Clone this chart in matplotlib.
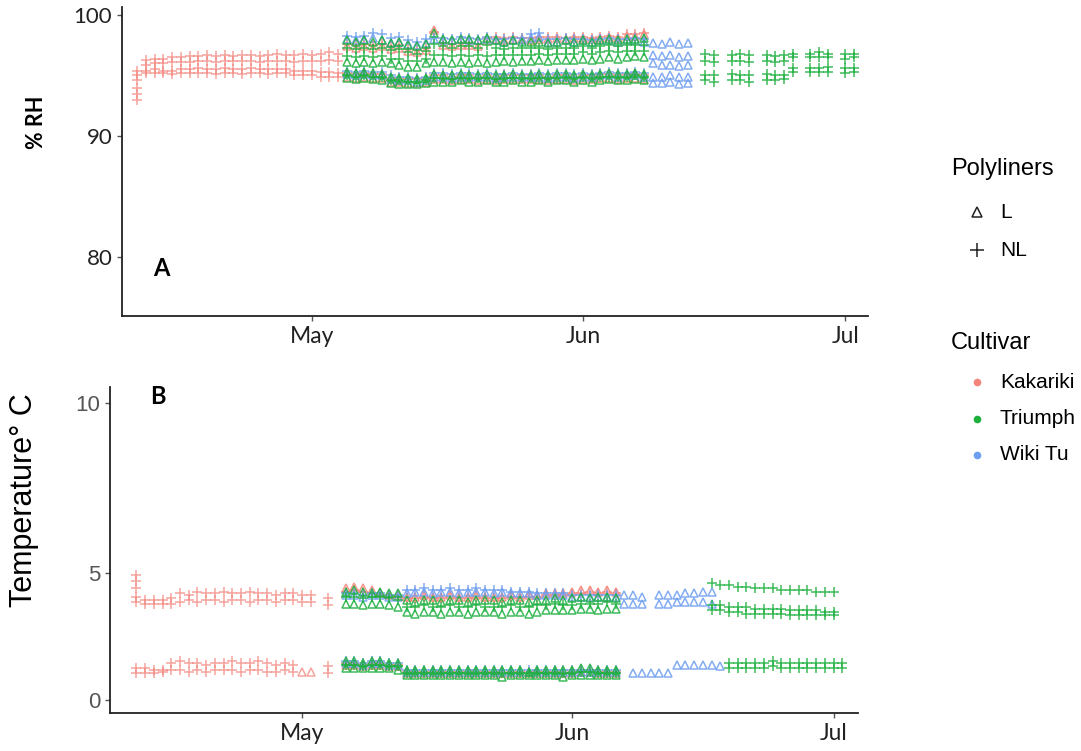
import numpy as np
import matplotlib
matplotlib.use("Agg")
import matplotlib.pyplot as plt
import matplotlib.dates as mdates
from matplotlib.lines import Line2D

nan = np.nan

def d(s):
    return np.datetime64("2019-" + s)

def drange(a, b):
    return np.arange(d(a), d(b) + np.timedelta64(1, "D"))

# ---------------- categories ----------------
cultivars = ["Kakariki", "Triumph", "Wiki Tu"]
polyliners = ["L", "NL"]
month_labels = ["May", "Jun", "Jul"]

# ================= Panel A : % RH =================
# period 1 : Kakariki NL, Apr 11 - May 4
rh_p1_dates = drange("04-11", "05-04")
rh_kak_nl_up_hi = [nan, 96.3, 96.4, 96.4, 96.5, 96.5, 96.6, 96.6, 96.7, 96.6, 96.7, 96.6,
                   96.7, 96.7, 96.6, 96.7, 96.8, 96.7, 96.7, 96.8, 96.7, 96.8, 96.9, 96.8]
rh_kak_nl_up_lo = [nan, 95.9, 96.0, 96.0, 96.1, 96.1, 96.1, 96.2, 96.2, 96.1, 96.2, 96.2,
                   96.2, 96.2, 96.1, 96.2, 96.2, 96.2, 96.1, 96.2, 96.2, 96.2, 96.3, 96.2]
rh_kak_nl_lo_hi = [95.4, 95.4, 95.5, 95.4, 95.4, 95.5, 95.5, 95.6, 95.5, 95.5, 95.6, 95.5,
                   95.5, 95.6, 95.5, 95.5, 95.5, 95.5, 95.4, 95.4, 95.4, 95.3, 95.3, 95.2]
rh_kak_nl_lo_lo = [95.0, 95.2, 95.2, 95.2, 95.1, 95.2, 95.2, 95.2, 95.2, 95.1, 95.2, 95.2,
                   95.1, 95.2, 95.2, 95.1, 95.2, 95.2, 95.0, 95.0, 95.0, 94.9, 94.9, 94.9]
rh_kak_start_date = d("04-11")
rh_kak_start = [94.6, 94.0, 93.5, 93.0]

# period 2 : all cultivars, May 5 - Jun 8
rh_p2_dates = drange("05-05", "06-08")
rh_kak_L_up = [97.4, 97.3, 97.4, 97.3, 97.4, 97.2, 97.3, 97.0, 96.9, 97.1, 98.8, 97.5,
               97.4, 97.5, 97.5, 97.4, 97.9, 98.0, 97.9, 98.0, 98.0, 97.9, 98.0, 98.0,
               98.1, 98.0, 98.1, 98.1, 98.0, 98.1, 98.2, 98.1, 98.3, 98.3, 98.4]
rh_kak_NL_up = [97.6, 97.5, 97.6, 97.5, 97.6, 97.4, 97.5, 97.2, 97.1, 97.3, 98.6, 97.7,
                97.6, 97.7, 97.7, 97.6, 98.1, 98.2, 98.1, 98.2, 98.1, 98.1, 98.2, 98.2,
                98.2, 98.1, 98.2, 98.2, 98.1, 98.2, 98.3, 98.2, 98.4, 98.4, 98.5]
rh_kak_L_lo = [94.9, 94.8, 94.9, 94.8, 94.8, 94.5, 94.5, 94.4, 94.4, 94.5, 94.7, 94.7,
               94.6, 94.7, 94.7, 94.6, 94.7, 94.6, 94.7, 94.7, 94.7, 94.7, 94.7, 94.6,
               94.7, 94.7, 94.6, 94.7, 94.7, 94.8, 94.8, 94.7, 94.8, 94.8, 94.7]
rh_kak_NL_lo = [95.2, 95.1, 95.2, 95.1, 95.1, 94.8, 94.8, 94.7, 94.7, 94.8, 95.0, 95.0,
                94.9, 95.0, 95.0, 94.9, 95.0, 94.9, 95.0, 95.0, 95.0, 95.0, 95.0, 94.9,
                95.0, 95.0, 94.9, 95.0, 95.0, 95.1, 95.1, 95.0, 95.1, 95.1, 95.0]
rh_wiki_L_up = [98.0, 97.9, 98.0, 98.1, 97.9, 97.7, 97.8, 97.6, 97.5, 97.7, 98.0, 97.9,
                97.9, 98.0, 97.9, 97.9, 98.0, 97.9, 97.8, 97.9, 97.9, 98.1, 98.2, 97.8,
                97.8, 97.9, 97.8, 97.9, 97.8, 97.9, 97.9, 97.8, 97.9, 97.9, 97.8]
rh_wiki_NL_up = [98.3, 98.2, 98.3, 98.5, 98.4, 98.1, 98.2, 97.9, 97.8, 98.0, 98.1, 98.1,
                 98.0, 98.2, 98.1, 98.0, 98.2, 98.0, 98.0, 98.1, 98.1, 98.4, 98.5, 98.0,
                 98.0, 98.1, 98.0, 98.0, 97.9, 98.0, 98.1, 98.0, 98.0, 98.1, 98.0]
rh_wiki_L_lo = [95.1, 95.0, 95.1, 95.0, 95.0, 94.7, 94.6, 94.6, 94.5, 94.6, 94.9, 94.9,
                94.8, 94.9, 94.9, 94.9, 94.9, 94.8, 94.9, 94.9, 94.9, 94.9, 94.9, 94.8,
                94.9, 94.9, 94.8, 94.9, 94.9, 95.0, 95.0, 94.9, 95.0, 95.0, 94.9]
rh_wiki_NL_lo = [95.4, 95.3, 95.4, 95.3, 95.3, 95.0, 94.9, 94.9, 94.8, 94.9, 95.2, 95.2,
                 95.1, 95.2, 95.2, 95.1, 95.2, 95.1, 95.1, 95.2, 95.1, 95.1, 95.2, 95.1,
                 95.2, 95.2, 95.1, 95.2, 95.1, 95.2, 95.3, 95.2, 95.2, 95.3, 95.2]
rh_tri_L_up_hi = [97.9, 97.8, 97.9, 97.8, 97.9, 97.7, 97.8, 97.5, 97.4, 97.6, 98.5, 98.0,
                  97.9, 98.0, 98.0, 97.9, 98.1, 97.9, 97.8, 97.9, 97.8, 97.8, 97.8, 97.7,
                  97.8, 97.9, 97.8, 97.9, 97.8, 97.9, 98.0, 97.9, 98.0, 98.0, 98.1]
rh_tri_L_up_lo = [96.1, 96.0, 96.1, 96.0, 96.1, 96.0, 95.9, 95.7, 95.7, 96.0, 96.1, 96.1,
                  96.0, 96.1, 96.0, 96.1, 96.0, 96.1, 96.2, 96.1, 96.2, 96.2, 96.3, 96.2,
                  96.3, 96.3, 96.3, 96.4, 96.3, 96.4, 96.5, 96.4, 96.5, 96.6, 96.5]
rh_tri_NL_up_hi = [97.3, 97.2, 97.3, 97.2, 97.3, 97.1, 97.2, 96.9, 96.8, 97.0, 97.6, 97.4,
                   97.3, 97.4, 97.4, 97.3, 97.5, 97.3, 97.2, 97.3, 97.3, 97.3, 97.3, 97.2,
                   97.3, 97.3, 97.3, 97.4, 97.3, 97.4, 97.5, 97.4, 97.5, 97.5, 97.5]
rh_tri_NL_up_lo = [96.6, 96.5, 96.6, 96.5, 96.6, 96.4, 96.4, 96.2, 96.2, 96.4, 96.7, 96.7,
                   96.6, 96.7, 96.6, 96.7, 96.6, 96.7, 96.7, 96.7, 96.7, 96.7, 96.8, 96.7,
                   96.8, 96.8, 96.8, 96.9, 96.8, 96.9, 97.0, 96.9, 97.0, 97.0, 97.0]
rh_tri_L_lo_hi = [95.3, 95.2, 95.3, 95.2, 95.1, 94.9, 94.8, 94.8, 94.7, 94.8, 95.1, 95.0,
                  95.0, 95.1, 95.0, 95.0, 95.1, 95.0, 95.0, 95.1, 95.0, 95.0, 95.1, 95.0,
                  95.1, 95.1, 95.0, 95.1, 95.0, 95.1, 95.2, 95.1, 95.1, 95.2, 95.1]
rh_tri_L_lo_lo = [94.8, 94.7, 94.8, 94.7, 94.6, 94.4, 94.3, 94.3, 94.3, 94.4, 94.5, 94.5,
                  94.5, 94.6, 94.5, 94.5, 94.6, 94.5, 94.5, 94.6, 94.5, 94.5, 94.6, 94.5,
                  94.6, 94.6, 94.5, 94.6, 94.5, 94.6, 94.7, 94.6, 94.6, 94.7, 94.6]
rh_tri_NL_lo = [95.0, 94.9, 95.0, 94.9, 94.9, 94.6, 94.6, 94.5, 94.5, 94.6, 94.8, 94.8,
                94.7, 94.8, 94.8, 94.8, 94.8, 94.7, 94.8, 94.8, 94.8, 94.8, 94.8, 94.8,
                94.8, 94.9, 94.8, 94.9, 94.8, 94.9, 94.9, 94.9, 94.9, 95.0, 94.9]

# period 3 : Wiki Tu L, Jun 9 - Jun 13
rh_p3_dates = drange("06-09", "06-13")
rh_wiki3_up_hi = [97.7, 97.6, 97.8, 97.6, 97.7]
rh_wiki3_up_lo = [96.7, 96.6, 96.7, 96.5, 96.6]
rh_wiki3_mid = [96.0, 95.9, 95.9, 95.8, 95.9]
rh_wiki3_lo_hi = [94.9, 94.9, 95.0, 94.9, 94.9]
rh_wiki3_lo_lo = [94.4, 94.4, 94.5, 94.3, 94.4]

# period 4 : Triumph NL, Jun 15 - Jul 2
rh_p4_dates = [d(s) for s in ["06-15", "06-16", "06-18", "06-19", "06-20", "06-22", "06-23",
                              "06-24", "06-25", "06-27", "06-28", "06-29", "07-01", "07-02"]]
rh_tri4_up_hi = [96.8, 96.7, 96.7, 96.8, 96.7, 96.7, 96.6, 96.7, 96.8, 96.8, 96.9, 96.8, 96.8, 96.8]
rh_tri4_up_lo = [96.2, 96.1, 96.2, 96.2, 96.1, 96.2, 96.1, 96.2, 96.5, 96.5, 96.5, 96.5, 96.4, 96.5]
rh_tri4_lo_hi = [95.0, 95.0, 95.1, 95.0, 95.0, 95.1, 95.0, 95.0, 95.6, 95.6, 95.6, 95.7, 95.6, 95.6]
rh_tri4_lo_lo = [94.6, 94.5, 94.6, 94.6, 94.5, 94.6, 94.6, 94.7, 95.3, 95.3, 95.3, 95.3, 95.2, 95.3]

# ================= Panel B : Temperature =================
# period 1 : Kakariki NL, Apr 12 - May 4
t_p1_dates = np.concatenate([drange("04-12", "05-02"), [d("05-04")]])
t_kak_nl_up_hi = [4.30, 4.20, 4.20, 4.20, 4.25, 4.40, 4.35, 4.45, 4.40, 4.40, 4.45,
                  4.40, 4.40, 4.45, 4.40, 4.40, 4.35, 4.40, 4.40, 4.35, 4.35, 4.25]
t_kak_nl_up_lo = [4.15, 4.10, 4.10, 4.10, 4.10, 4.15, 4.20, 4.15, 4.20, 4.20, 4.15,
                  4.20, 4.20, 4.15, 4.20, 4.20, 4.15, 4.20, 4.20, 4.15, 4.15, 4.05]
t_kak_nl_lo_hi = [2.20, 2.20, 2.15, 2.15, 2.35, 2.40, 2.35, 2.35, 2.30, 2.35, 2.35,
                  2.40, 2.35, 2.35, 2.40, 2.35, 2.30, 2.35, 2.30, nan, nan, 2.25]
t_kak_nl_lo_lo = [2.05, 2.05, 2.05, 2.10, 2.15, 2.15, 2.10, 2.15, 2.10, 2.15, 2.15,
                  2.15, 2.10, 2.15, 2.15, 2.10, 2.10, 2.15, 2.10, nan, nan, 2.05]
t_kak_start_date = d("04-12")
t_kak_start = [4.95, 4.75, 4.55]
t_kak_L_p1_dates = [d("05-01"), d("05-02")]
t_kak_L_p1 = [2.10, 2.10]

# period 2 : all cultivars, May 6 - Jun 6
t_p2_dates = drange("05-06", "06-06")
t_kak_L_up = [4.55, 4.60, 4.55, 4.50, 4.40, 4.35, 4.35, 4.30, 4.30, 4.35, 4.30, 4.30,
              4.35, 4.30, 4.30, 4.35, 4.30, 4.30, 4.30, 4.35, 4.30, 4.35, 4.35, 4.40,
              4.40, 4.40, 4.45, 4.50, 4.50, 4.45, 4.50, 4.45]
t_kak_NL_up = [4.45, 4.50, 4.45, 4.40, 4.35, 4.30, 4.30, 4.25, 4.25, 4.30, 4.25, 4.25,
               4.30, 4.25, 4.25, 4.30, 4.25, 4.25, 4.25, 4.30, 4.25, 4.30, 4.30, 4.35,
               4.35, 4.35, 4.40, 4.40, 4.45, 4.40, 4.45, 4.40]
t_kak_L_lo = [2.30, 2.30, 2.25, 2.30, 2.30, 2.25, 2.25, 2.05, 2.05, 2.05, 2.05, 2.05,
              2.05, 2.05, 2.05, 2.05, 2.05, 2.05, 2.05, 2.05, 2.05, 2.05, 2.05, 2.05,
              2.05, 2.05, 2.05, 2.10, 2.10, 2.05, 2.05, 2.05]
t_kak_NL_lo = [2.35, 2.35, 2.30, 2.35, 2.35, 2.30, 2.30, 2.10, 2.10, 2.10, 2.10, 2.10,
               2.10, 2.10, 2.10, 2.10, 2.10, 2.10, 2.05, 2.10, 2.10, 2.10, 2.10, 2.10,
               2.10, 2.05, 2.10, 2.15, 2.15, 2.10, 2.10, 2.10]
t_wiki_L_up = [4.35, 4.35, 4.30, 4.35, 4.35, 4.30, 4.30, 4.40, 4.45, 4.45, 4.40, 4.45,
               4.45, 4.40, 4.45, 4.45, 4.45, 4.40, 4.45, 4.40, 4.40, 4.40, 4.35, 4.35,
               4.35, 4.35, 4.30, 4.30, 4.30, 4.30, 4.30, 4.30]
t_wiki_NL_up = [4.40, 4.40, 4.35, 4.40, 4.40, 4.35, 4.35, 4.50, 4.50, 4.55, 4.50, 4.50,
                4.55, 4.50, 4.50, 4.55, 4.50, 4.50, 4.50, 4.45, 4.45, 4.45, 4.40, 4.40,
                4.40, 4.40, 4.35, 4.35, 4.35, 4.35, 4.35, 4.35]
t_wiki_L_lo = [2.35, 2.35, 2.30, 2.35, 2.35, 2.30, 2.30, 2.10, 2.10, 2.10, 2.10, 2.10,
               2.10, 2.10, 2.10, 2.10, 2.10, 2.10, 2.10, 2.10, 2.10, 2.10, 2.10, 2.10,
               2.10, 2.10, 2.10, 2.10, 2.10, 2.10, 2.10, 2.10]
t_wiki_NL_lo = [2.40, 2.40, 2.35, 2.40, 2.40, 2.35, 2.35, 2.15, 2.15, 2.15, 2.15, 2.15,
                2.15, 2.15, 2.15, 2.15, 2.15, 2.15, 2.15, 2.15, 2.15, 2.15, 2.15, 2.15,
                2.15, 2.15, 2.15, 2.15, 2.15, 2.15, 2.15, 2.15]
t_tri_L_up_hi = [4.45, 4.50, 4.45, 4.40, 4.45, 4.40, 4.40, 4.20, 4.15, 4.20, 4.20, 4.15,
                 4.20, 4.20, 4.15, 4.20, 4.20, 4.20, 4.15, 4.20, 4.20, 4.15, 4.20, 4.20,
                 4.25, 4.20, 4.25, 4.30, 4.25, 4.30, 4.30, 4.25]
t_tri_L_up_lo = [4.10, 4.10, 4.05, 4.10, 4.10, 4.05, 4.00, 3.85, 3.80, 3.85, 3.85, 3.80,
                 3.85, 3.85, 3.80, 3.85, 3.85, 3.85, 3.80, 3.85, 3.85, 3.80, 3.85, 3.90,
                 3.90, 3.90, 3.90, 3.95, 3.95, 3.90, 3.95, 3.95]
t_tri_NL_up = [4.30, 4.30, 4.25, 4.30, 4.30, 4.25, 4.20, 4.00, 4.00, 4.05, 4.00, 4.00,
               4.05, 4.00, 4.00, 4.05, 4.00, 4.00, 4.00, 4.05, 4.00, 4.00, 4.05, 4.05,
               4.10, 4.05, 4.05, 4.10, 4.10, 4.10, 4.15, 4.10]
t_tri_L_lo_hi = [2.40, 2.40, 2.35, 2.40, 2.40, 2.35, 2.35, 2.15, 2.15, 2.15, 2.15, 2.15,
                 2.15, 2.15, 2.15, 2.15, 2.15, 2.15, 2.15, 2.15, 2.15, 2.10, 2.15, 2.15,
                 2.15, 2.15, 2.15, 2.20, 2.20, 2.15, 2.15, 2.15]
t_tri_L_lo_lo = [2.20, 2.20, 2.20, 2.20, 2.20, 2.20, 2.15, 2.00, 2.00, 2.00, 2.00, 2.00,
                 2.00, 2.00, 2.00, 2.00, 2.00, 2.00, 1.95, 2.00, 2.00, 2.00, 2.00, 2.00,
                 2.00, 1.95, 2.00, 2.00, 2.00, 2.00, 2.00, 2.00]
t_tri_NL_lo = [2.30, 2.30, 2.25, 2.30, 2.30, 2.25, 2.25, 2.05, 2.05, 2.05, 2.05, 2.05,
               2.05, 2.05, 2.05, 2.05, 2.05, 2.05, 2.05, 2.05, 2.05, 2.05, 2.05, 2.05,
               2.05, 2.05, 2.05, 2.10, 2.10, 2.05, 2.05, 2.05]

# period 3 : Wiki Tu L, Jun 7 - Jun 18
t_wiki3_up_dates = [d(s) for s in ["06-07", "06-08", "06-09", "06-11", "06-12",
                                   "06-13", "06-14", "06-15", "06-16", "06-17"]]
t_wiki3_up_hi = [4.35, 4.35, 4.30, 4.35, 4.35, 4.35, 4.40, 4.40, 4.45, 4.45]
t_wiki3_up_lo = [4.10, 4.10, 4.10, 4.10, 4.10, 4.15, 4.15, 4.15, 4.15, 4.10]
t_wiki3_lo_dates = drange("06-08", "06-18")
t_wiki3_lo = [2.05, 2.05, 2.05, 2.05, 2.05, 2.30, 2.30, 2.30, 2.30, 2.30, 2.25]

# period 4 : Triumph NL, Jun 17 - Jul 2
t_tri4_up_dates = drange("06-17", "07-01")
t_tri4_up_a = [4.70, 4.65, 4.65, 4.60, 4.60, 4.55, 4.55, 4.55, 4.50, 4.50, 4.50, 4.50,
               4.45, 4.45, 4.45]
t_tri4_up_b = [4.05, 4.05, 4.00, 4.00, 4.00, 3.95, 3.95, 3.95, 3.95, 3.90, 3.90, 3.90,
               3.90, 3.85, 3.85]
t_tri4_up_c = [3.90, 3.90, 3.85, 3.85, 3.80, 3.80, 3.80, 3.80, 3.80, 3.75, 3.75, 3.75,
               3.75, 3.75, 3.75]
t_tri4_lo_dates = drange("06-19", "07-02")
t_tri4_lo_hi = [2.35, 2.35, 2.35, 2.35, 2.35, 2.40, 2.35, 2.35, 2.35, 2.35, 2.35, 2.35,
                2.35, 2.35]
t_tri4_lo_lo = [2.20, 2.20, 2.20, 2.20, 2.20, 2.25, 2.20, 2.20, 2.20, 2.20, 2.20, 2.20,
                2.20, 2.20]

# ---------------- styles ----------------
colors = {"Kakariki": "#F4857C", "Triumph": "#1DB03F", "Wiki Tu": "#6E9EF0"}
shapes = {"L": "^", "NL": "+"}
W, H = 1081, 751
fig = plt.figure(figsize=(W / 100, H / 100), dpi=100)

def pts(ax, dates, vals, cult, liner, alpha=0.85):
    m = shapes[liner]
    ms = 5.4 if m == "^" else 6.8
    ax.plot(dates, vals, linestyle="none", marker=m, ms=ms, mew=1.1,
            mfc="none", mec=colors[cult], alpha=alpha)

def style_axis(ax):
    for s in ["top", "right"]:
        ax.spines[s].set_visible(False)
    for s in ["left", "bottom"]:
        ax.spines[s].set_color("#222222")
        ax.spines[s].set_linewidth(1.3)
    ax.xaxis.set_major_locator(mdates.MonthLocator(bymonthday=1, bymonth=[5, 6, 7]))
    ax.set_xticks(ax.get_xticks())
    ax.set_xticklabels(month_labels, fontfamily="Lato", fontsize=16.5, color="#222222")
    ax.tick_params(axis="both", length=3.5, width=1, color="#555555")

# ---------------- Panel A ----------------
axA = fig.add_axes([122 / W, 1 - 316 / H, (868 - 122) / W, (316 - 7) / H])
may1 = mdates.date2num(d("05-01"))
jun1 = mdates.date2num(d("06-01"))
axA.set_xlim(may1 - 21.73, jun1 + 32.6)
axA.set_ylim(75.12, 100.66)

pts(axA, rh_p1_dates, rh_kak_nl_up_hi, "Kakariki", "NL", 0.75)
pts(axA, rh_p1_dates, rh_kak_nl_up_lo, "Kakariki", "NL", 0.75)
pts(axA, rh_p1_dates, rh_kak_nl_lo_hi, "Kakariki", "NL", 0.75)
pts(axA, rh_p1_dates, rh_kak_nl_lo_lo, "Kakariki", "NL", 0.75)
pts(axA, [rh_kak_start_date] * len(rh_kak_start), rh_kak_start, "Kakariki", "NL", 0.75)

for vals, liner in [(rh_kak_L_up, "L"), (rh_kak_NL_up, "NL"), (rh_kak_L_lo, "L"), (rh_kak_NL_lo, "NL")]:
    pts(axA, rh_p2_dates, vals, "Kakariki", liner)
for vals, liner in [(rh_wiki_L_up, "L"), (rh_wiki_NL_up, "NL"), (rh_wiki_L_lo, "L"), (rh_wiki_NL_lo, "NL")]:
    pts(axA, rh_p2_dates, vals, "Wiki Tu", liner)
for vals, liner in [(rh_tri_L_up_hi, "L"), (rh_tri_L_up_lo, "L"), (rh_tri_NL_up_hi, "NL"),
                    (rh_tri_NL_up_lo, "NL"), (rh_tri_L_lo_hi, "L"), (rh_tri_L_lo_lo, "L"),
                    (rh_tri_NL_lo, "NL")]:
    pts(axA, rh_p2_dates, vals, "Triumph", liner)
for vals in [rh_wiki3_up_hi, rh_wiki3_up_lo, rh_wiki3_mid, rh_wiki3_lo_hi, rh_wiki3_lo_lo]:
    pts(axA, rh_p3_dates, vals, "Wiki Tu", "L")
for vals in [rh_tri4_up_hi, rh_tri4_up_lo, rh_tri4_lo_hi, rh_tri4_lo_lo]:
    pts(axA, rh_p4_dates, vals, "Triumph", "NL")

style_axis(axA)
axA.set_yticks([80, 90, 100])
axA.set_yticklabels(["80", "90", "100"], fontfamily="Lato", fontsize=16, color="#222222")
axA.set_ylabel("% RH", fontfamily="Lato", fontweight="bold", fontsize=15.5)
axA.yaxis.set_label_coords(-0.1005, 0.628)
axA.text(0.0415, 0.155, "A", transform=axA.transAxes, fontfamily="Lato",
         fontweight="bold", fontsize=17, va="center", ha="left")

# ---------------- Panel B ----------------
axB = fig.add_axes([110 / W, 1 - 713 / H, (858 - 110) / W, (713 - 387) / H])
axB.set_xlim(may1 - 22.04, jun1 + 32.8)
axB.set_ylim(0.88, 10.47)

pts(axB, t_p1_dates, t_kak_nl_up_hi, "Kakariki", "NL", 0.75)
pts(axB, t_p1_dates, t_kak_nl_up_lo, "Kakariki", "NL", 0.75)
pts(axB, t_p1_dates, t_kak_nl_lo_hi, "Kakariki", "NL", 0.75)
pts(axB, t_p1_dates, t_kak_nl_lo_lo, "Kakariki", "NL", 0.75)
pts(axB, [t_kak_start_date] * len(t_kak_start), t_kak_start, "Kakariki", "NL", 0.75)
pts(axB, t_kak_L_p1_dates, t_kak_L_p1, "Kakariki", "L", 0.75)

for vals, liner in [(t_kak_L_up, "L"), (t_kak_NL_up, "NL"), (t_kak_L_lo, "L"), (t_kak_NL_lo, "NL")]:
    pts(axB, t_p2_dates, vals, "Kakariki", liner)
for vals, liner in [(t_wiki_L_up, "L"), (t_wiki_NL_up, "NL"), (t_wiki_L_lo, "L"), (t_wiki_NL_lo, "NL")]:
    pts(axB, t_p2_dates, vals, "Wiki Tu", liner)
for vals, liner in [(t_tri_L_up_hi, "L"), (t_tri_L_up_lo, "L"), (t_tri_NL_up, "NL"),
                    (t_tri_L_lo_hi, "L"), (t_tri_L_lo_lo, "L"), (t_tri_NL_lo, "NL")]:
    pts(axB, t_p2_dates, vals, "Triumph", liner)
pts(axB, t_wiki3_up_dates, t_wiki3_up_hi, "Wiki Tu", "L")
pts(axB, t_wiki3_up_dates, t_wiki3_up_lo, "Wiki Tu", "L")
pts(axB, t_wiki3_lo_dates, t_wiki3_lo, "Wiki Tu", "L")
for vals in [t_tri4_up_a, t_tri4_up_b, t_tri4_up_c]:
    pts(axB, t_tri4_up_dates, vals, "Triumph", "NL")
for vals in [t_tri4_lo_hi, t_tri4_lo_lo]:
    pts(axB, t_tri4_lo_dates, vals, "Triumph", "NL")

style_axis(axB)
axB.set_yticks([1.26, 5, 10])
axB.set_yticklabels(["0", "5", "10"], fontfamily="Liberation Sans", fontsize=16, color="#555555")
axB.set_ylabel("Temperature° C", fontfamily="Liberation Sans", fontsize=22)
axB.yaxis.set_label_coords(-0.095, 0.653)
axB.text(0.053, 0.97, "B", transform=axB.transAxes, fontfamily="Lato",
         fontweight="bold", fontsize=17, va="center", ha="left")

# ---------------- legends ----------------
def fx(x):
    return x / W

def fy(y):
    return 1 - y / H

lf = "Liberation Sans"
fig.text(fx(951), fy(169), "Polyliners", fontfamily=lf, fontsize=17, va="center", ha="left")
for y, lab in [(212, "L"), (250, "NL")]:
    m = shapes[lab]
    fig.add_artist(Line2D([fx(977)], [fy(y)], marker=m, ms=7 if m == "^" else 10, mew=1.1,
                          mfc="none", mec="#222222", linestyle="none"))
    fig.text(fx(1000), fy(y), lab, fontfamily=lf, fontsize=15, va="center", ha="left")

fig.text(fx(951), fy(343), "Cultivar", fontfamily=lf, fontsize=17, va="center", ha="left")
for y, lab in zip([382, 419, 455], cultivars):
    fig.add_artist(Line2D([fx(977)], [fy(y)], marker="o", ms=5.5, mew=0,
                          mfc=colors[lab], linestyle="none"))
    fig.text(fx(1000), fy(y), lab, fontfamily=lf, fontsize=15, va="center", ha="left")

fig.savefig("out.png", dpi=100, facecolor="white")
